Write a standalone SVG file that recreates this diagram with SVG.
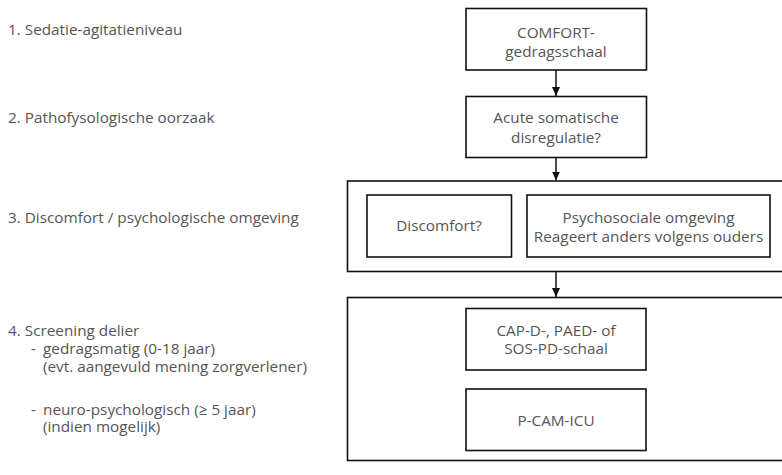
<svg xmlns="http://www.w3.org/2000/svg" width="782" height="475" viewBox="0 0 782 475">
<defs>
<marker id="ah" markerWidth="9" markerHeight="8" refX="9" refY="4" orient="auto" markerUnits="userSpaceOnUse" viewBox="0 0 9 8">
<path d="M0,0 L9,4 L0,8 Z" fill="#111"/>
</marker>
</defs>
<style>
text{font-family:"Open Sans","Noto Sans","DejaVu Sans",sans-serif;font-size:15.3px;fill:#555}
.c{text-anchor:middle}
.box{fill:#fff;stroke:#111;stroke-width:1.6}
.frame{fill:none;stroke:#111;stroke-width:1.6}
.conn{stroke:#111;stroke-width:1.5;fill:none}
</style>
<rect width="782" height="475" fill="#fff"/>
<g id="labels">
<text x="8" y="35">1. Sedatie-agitatieniveau</text>
<text x="8" y="123">2. Pathofysologische oorzaak</text>
<text x="8" y="223">3. Discomfort / psychologische omgeving</text>
<text x="8" y="336">4. Screening delier</text>
<text x="31" y="354">-<tspan x="43">gedragsmatig (0-18 jaar)</tspan></text>
<text x="43" y="372">(evt. aangevuld mening zorgverlener)</text>
<text x="31" y="415">-<tspan x="43">neuro-psychologisch (≥ 5 jaar)</tspan></text>
<text x="43" y="432">(indien mogelijk)</text>
</g>
<g id="group3">
<rect class="frame" x="347.5" y="181" width="460" height="90.5"/>
</g>
<g id="group4">
<rect class="frame" x="347.5" y="297.5" width="460" height="163"/>
</g>
<g id="comfort">
<rect class="box" x="466" y="8.5" width="180.5" height="61.5"/>
<text class="c" x="556" y="38">COMFORT-</text>
<text class="c" x="556" y="57">gedragsschaal</text>
</g>
<g id="acute">
<rect class="box" x="466" y="96.5" width="180.5" height="61"/>
<text class="c" x="556" y="123">Acute somatische</text>
<text class="c" x="556" y="143">disregulatie?</text>
</g>
<g id="discomfort">
<rect class="box" x="367" y="195" width="144.5" height="62"/>
<text class="c" x="439" y="231">Discomfort?</text>
</g>
<g id="psychosociaal">
<rect class="box" x="527" y="195" width="243" height="62"/>
<text class="c" x="648.5" y="223">Psychosociale omgeving</text>
<text class="c" x="648.5" y="241.5">Reageert anders volgens ouders</text>
</g>
<g id="capd">
<rect class="box" x="466" y="308.5" width="180" height="61.5"/>
<text class="c" x="556" y="335.5">CAP-D-, PAED- of</text>
<text class="c" x="556" y="354">SOS-PD-schaal</text>
</g>
<g id="pcam">
<rect class="box" x="466" y="389" width="180" height="61.5"/>
<text class="c" x="556" y="425.5">P-CAM-ICU</text>
</g>
<g id="connectors">
<line class="conn" x1="556" y1="70" x2="556" y2="96" marker-end="url(#ah)"/>
<line class="conn" x1="556" y1="157.5" x2="556" y2="180.5" marker-end="url(#ah)"/>
<line class="conn" x1="556" y1="271.5" x2="556" y2="297" marker-end="url(#ah)"/>
</g>
</svg>
